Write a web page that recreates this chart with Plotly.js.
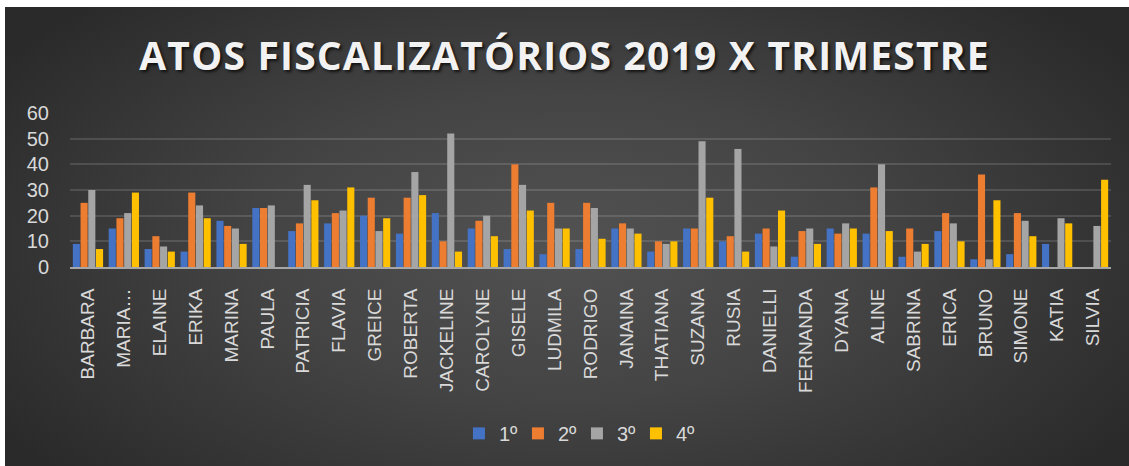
<!DOCTYPE html>
<html>
<head>
<meta charset="utf-8">
<script src="https://cdn.plot.ly/plotly-3.0.1.min.js"></script>
<style>
  html, body { margin: 0; padding: 0; background: #ffffff; }
  #wrap { position: absolute; left: 0; top: 0; width: 1129px; height: 466px; background: #ffffff; }
  #bg { position: absolute; left: 5px; top: 7px; width: 1124px; height: 459px;
        background: radial-gradient(ellipse 60% 75% at 50% 52%, #525252 0%, #444444 45%, #2a2a2a 100%); }
  #chart { position: absolute; left: 0; top: 0; width: 1129px; height: 466px; }
  #chart .gtitle { letter-spacing: 1.2px; }
</style>
</head>
<body>
<div id="wrap"><div id="bg"></div><div id="chart"></div></div>
<script>
const categories = ["BARBARA","MARIA…","ELAINE","ERIKA","MARINA","PAULA","PATRICIA","FLAVIA","GREICE","ROBERTA",
  "JACKELINE","CAROLYNE","GISELE","LUDMILA","RODRIGO","JANAINA","THATIANA","SUZANA","RUSIA","DANIELLI",
  "FERNANDA","DYANA","ALINE","SABRINA","ERICA","BRUNO","SIMONE","KATIA","SILVIA"];
const q1 = [9,15,7,6,18,23,14,17,20,13,21,15,7,5,7,15,6,15,10,13,4,15,13,4,14,3,5,9,0];
const q2 = [25,19,12,29,16,23,17,21,27,27,10,18,40,25,25,17,10,15,12,15,14,13,31,15,21,36,21,0,0];
const q3 = [30,21,8,24,15,24,32,22,14,37,52,20,32,15,23,15,9,49,46,8,15,17,40,6,17,3,18,19,16];
const q4 = [7,29,6,19,9,0,26,31,19,28,6,12,22,15,11,13,10,27,6,22,9,15,14,9,10,26,12,17,34];
const seriesNames = ["1º","2º","3º","4º"];
const seriesColors = ["#4472C4","#ED7D31","#A5A5A5","#FFC000"];
const yTicks = [0,10,20,30,40,50,60];

const allSeries = [q1,q2,q3,q4];
const traces = allSeries.map((vals, i) => ({
  type: "bar",
  name: seriesNames[i],
  x: categories,
  y: vals,
  marker: { color: seriesColors[i], line: { width: 0 } },
  hoverinfo: "x+y+name"
}));

const layout = {
  width: 1129,
  height: 466,
  paper_bgcolor: "rgba(0,0,0,0)",
  plot_bgcolor: "rgba(0,0,0,0)",
  margin: { l: 70, r: 18, t: 113, b: 199, pad: 0 },
  barmode: "group",
  bargap: 0.14,
  bargroupgap: 0.08,
  title: {
    text: "ATOS FISCALIZATÓRIOS 2019 X TRIMESTRE",
    x: 0.5, xanchor: "center",
    y: 0.88, yanchor: "middle",
    yref: "container",
    font: { family: "Open Sans, sans-serif", size: 39, color: "#f2f2f2", weight: 700,
            shadow: "2px 2px 3px rgba(0,0,0,0.7)" }
  },
  xaxis: {
    type: "category",
    tickangle: -90,
    tickfont: { family: "Liberation Sans, Arial, sans-serif", size: 19, color: "#d9d9d9" },
    showgrid: false,
    showline: true,
    linecolor: "#a6a6a6",
    linewidth: 2,
    ticks: "",
    ticklabelstandoff: 12,
    fixedrange: true
  },
  yaxis: {
    range: [0, 60],
    tickvals: yTicks,
    ticktext: yTicks.map(String),
    tickfont: { family: "Liberation Sans, Arial, sans-serif", size: 20, color: "#d9d9d9" },
    showgrid: true,
    gridcolor: "rgba(255,255,255,0.13)",
    gridwidth: 2,
    zeroline: false,
    showline: false,
    ticks: "",
    ticklabelstandoff: 20,
    fixedrange: true
  },
  showlegend: true,
  legend: {
    orientation: "h",
    x: 0.487, xanchor: "center",
    y: 0.07, yanchor: "middle",
    yref: "container",
    font: { family: "Liberation Sans, Arial, sans-serif", size: 20, color: "#d9d9d9" },
    bgcolor: "rgba(0,0,0,0)",
    itemwidth: 30,
    entrywidth: 14,
    traceorder: "normal"
  }
};

Plotly.newPlot("chart", traces, layout, { displayModeBar: false, staticPlot: true });
</script>
</body>
</html>
